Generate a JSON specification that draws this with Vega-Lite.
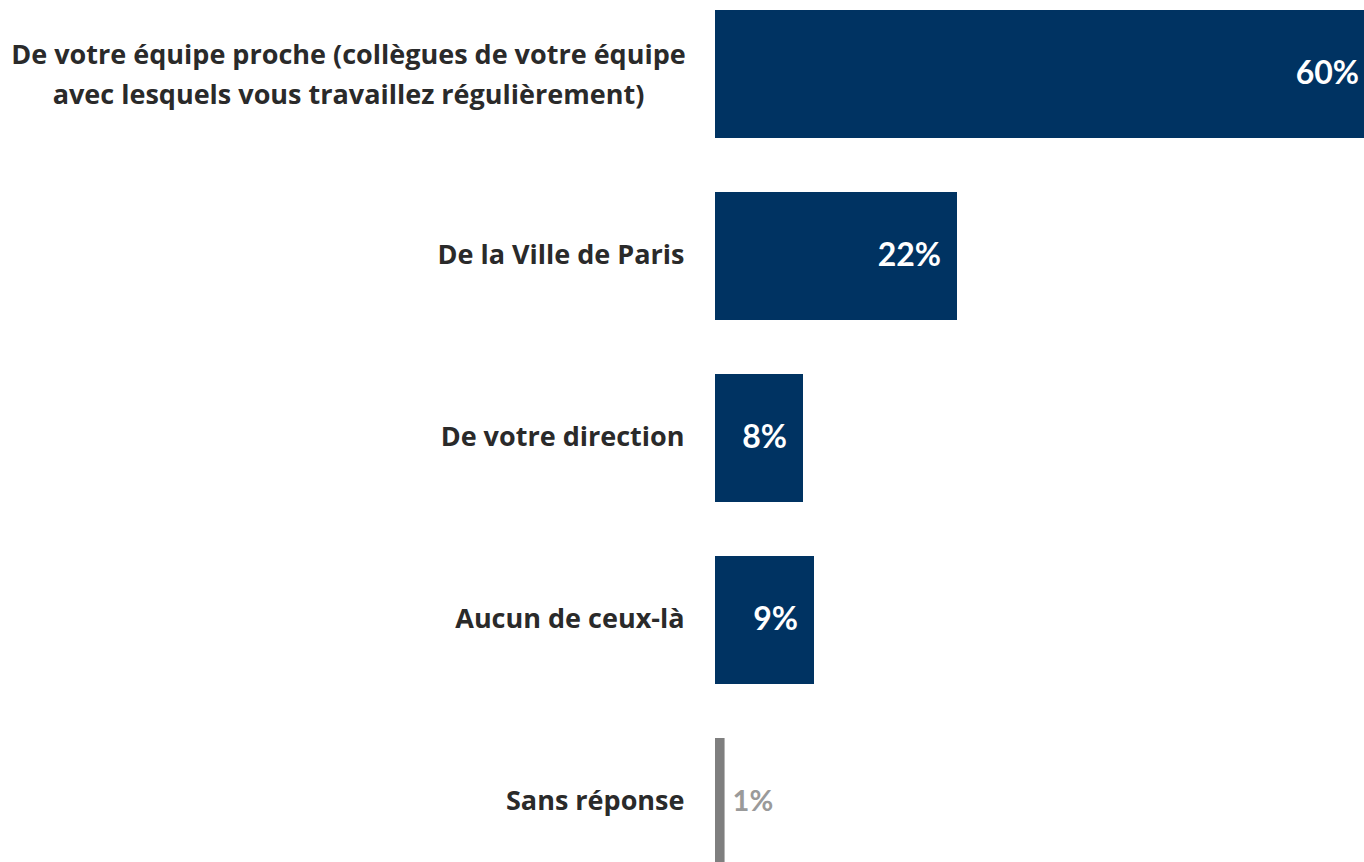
{
  "$schema": "https://vega.github.io/schema/vega-lite/v6.json",
  "autosize": "none",
  "padding": {"left": 715, "top": 0, "right": 0, "bottom": 0},
  "width": 660,
  "height": 876,
  "background": "white",
  "config": {"view": {"stroke": null}},
  "data": {
    "values": [
      {"categorie": "De votre équipe proche (collègues de votre équipe|avec lesquels vous travaillez régulièrement)", "pct": 60, "label": "60%", "groupe": "reponse"},
      {"categorie": "De la Ville de Paris", "pct": 22, "label": "22%", "groupe": "reponse"},
      {"categorie": "De votre direction", "pct": 8, "label": "8%", "groupe": "reponse"},
      {"categorie": "Aucun de ceux-là", "pct": 9, "label": "9%", "groupe": "reponse"},
      {"categorie": "Sans réponse", "pct": 0.87, "label": "1%", "groupe": "sr"}
    ]
  },
  "encoding": {
    "y": {
      "field": "categorie",
      "type": "nominal",
      "sort": null,
      "scale": {"paddingInner": 0.297, "paddingOuter": 0.055},
      "axis": {
        "title": null,
        "ticks": false,
        "domain": false,
        "labelExpr": "split(datum.label, '|')",
        "labelFont": "Open Sans",
        "labelFontWeight": "bold",
        "labelFontSize": 27,
        "labelLineHeight": 40,
        "labelColor": "#2a2a2a",
        "labelAlign": {"condition": {"test": "indexof(datum.value, '|') >= 0", "value": "center"}, "value": "right"},
        "labelPadding": {"condition": {"test": "indexof(datum.value, '|') >= 0", "value": 367}, "value": 31},
        "labelOffset": {"condition": {"test": "indexof(datum.value, '|') >= 0", "value": -18}, "value": 0},
        "labelLimit": 900
      }
    },
    "x": {
      "field": "pct",
      "type": "quantitative",
      "scale": {"domain": [0, 60], "nice": false, "zero": true},
      "axis": null
    }
  },
  "layer": [
    {
      "mark": {"type": "bar"},
      "encoding": {
        "color": {
          "field": "groupe",
          "type": "nominal",
          "scale": {"domain": ["reponse", "sr"], "range": ["#003362", "#7f7f7f"]},
          "legend": null
        }
      }
    },
    {
      "transform": [{"filter": "datum.groupe === 'reponse'"}],
      "mark": {"type": "text", "align": "right", "baseline": "middle", "dx": -16, "font": "Lato", "fontWeight": "bold", "fontSize": 32, "color": "white"},
      "encoding": {"text": {"field": "label"}}
    },
    {
      "transform": [{"filter": "datum.groupe === 'sr'"}],
      "mark": {"type": "text", "align": "left", "baseline": "middle", "dx": 8, "font": "Lato", "fontWeight": "bold", "fontSize": 29, "color": "#9a9a9a"},
      "encoding": {"text": {"field": "label"}}
    }
  ]
}
